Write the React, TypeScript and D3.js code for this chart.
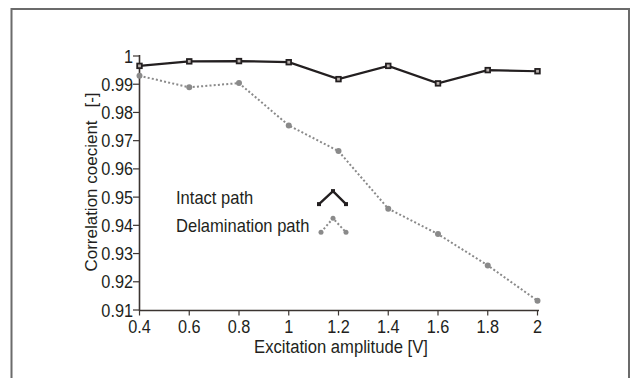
import React from "react";
import * as d3 from "d3";

// Excitation amplitudes (V)
const amplitudes = [0.4, 0.6, 0.8, 1.0, 1.2, 1.4, 1.6, 1.8, 2.0];
// Correlation coefficient, intact path
const intactValues = [0.9965, 0.9981, 0.9982, 0.9978, 0.9918, 0.9965, 0.9903, 0.995, 0.9946];
// Correlation coefficient, delamination path
const delamValues = [0.993, 0.9889, 0.9904, 0.9754, 0.9663, 0.9459, 0.9369, 0.9258, 0.9133];

const xTicks = [0.4, 0.6, 0.8, 1, 1.2, 1.4, 1.6, 1.8, 2];
const yTicks = [0.91, 0.92, 0.93, 0.94, 0.95, 0.96, 0.97, 0.98, 0.99, 1];

const W = 635;
const H = 378;
const FONT = "'Liberation Sans', Arial, sans-serif";
const INK = "#231f20";
const GREY = "#8a8a8a";
const AXIS = "#3b3431";

export default function App() {
  const x = d3.scaleLinear().domain([0.4, 2]).range([139.5, 537.5]);
  const y = d3.scaleLinear().domain([0.91, 1]).range([310, 56]);

  const line = d3
    .line<[number, number]>()
    .x((d) => x(d[0]))
    .y((d) => y(d[1]));

  const intact: [number, number][] = amplitudes.map((a, i) => [a, intactValues[i]]);
  const delam: [number, number][] = amplitudes.map((a, i) => [a, delamValues[i]]);

  const fmt = (v: number) => String(+v.toFixed(2));

  // legend rows sit on the 0.95 and 0.94 gridlines
  const rowI = y(0.95);
  const rowD = y(0.94);
  const legI: [number, number][] = [
    [319, rowI + 7],
    [333, rowI - 6],
    [346, rowI + 7],
  ];
  const legD: [number, number][] = [
    [321, rowD + 7],
    [333, rowD - 7],
    [346, rowD + 7],
  ];
  const plain = d3
    .line<[number, number]>()
    .x((d) => d[0])
    .y((d) => d[1]);

  // slightly condensed numeric labels
  const tickText = (tx: number, ty: number, anchor: "end" | "middle", s: string, key: string) => (
    <text
      key={key}
      transform={`translate(${tx},${ty}) scale(0.88,1)`}
      textAnchor={anchor}
      fontSize={18.5}
      fill={INK}
    >
      {s}
    </text>
  );

  return (
    <div style={{ position: "fixed", left: 0, top: 0, width: W, height: H, background: "#fff" }}>
      <svg width={W} height={H} style={{ display: "block" }} fontFamily={FONT}>
        {/* outer frame */}
        <rect x={11.5} y={9} width={617.5} height={400} fill="none" stroke="#6b6b6b" strokeWidth={2} />

        {/* axes */}
        <line x1={139.5} x2={539} y1={310.5} y2={310.5} stroke={AXIS} strokeWidth={1.6} />
        <line x1={139.5} x2={139.5} y1={55} y2={311} stroke={AXIS} strokeWidth={1.6} />

        {yTicks.map((t) => (
          <g key={"y" + t}>
            <line x1={133} x2={139.5} y1={y(t)} y2={y(t)} stroke={AXIS} strokeWidth={1.2} />
            {tickText(133, y(t) + 6.5, "end", fmt(t), "yl" + t)}
          </g>
        ))}

        {xTicks.map((t) => (
          <g key={"x" + t}>
            <line x1={x(t)} x2={x(t)} y1={310.5} y2={315.5} stroke={AXIS} strokeWidth={1.2} />
            {tickText(x(t), 333, "middle", fmt(t), "xl" + t)}
          </g>
        ))}

        {/* axis titles */}
        <g transform="translate(341,353) scale(0.9,1)">
          <text textAnchor="middle" fontSize={18.5} fill={INK}>
            Excitation amplitude [V]
          </text>
        </g>
        <text transform="translate(97,196) rotate(-90)" textAnchor="middle" fontSize={17} fill={INK}>
          Correlation coecient
        </text>
        <text transform="translate(97,100) rotate(-90)" textAnchor="middle" fontSize={17} fill={INK}>
          [-]
        </text>

        {/* delamination path series */}
        <path d={line(delam) ?? ""} fill="none" stroke={GREY} strokeWidth={2} strokeDasharray="2 2.2" />
        {delam.map((d, i) => (
          <circle key={"d" + i} cx={x(d[0])} cy={y(d[1])} r={3} fill={GREY} />
        ))}

        {/* intact path series */}
        <path d={line(intact) ?? ""} fill="none" stroke={INK} strokeWidth={2.2} />
        {intact.map((d, i) => (
          <rect
            key={"i" + i}
            x={x(d[0]) - 2.3}
            y={y(d[1]) - 2.3}
            width={4.6}
            height={4.6}
            fill="#b9b1ad"
            stroke={INK}
            strokeWidth={1.8}
          />
        ))}

        {/* legend */}
        <g transform={`translate(176,${rowI + 6.5}) scale(0.92,1)`}>
          <text fontSize={18} fill={INK}>
            Intact path
          </text>
        </g>
        <g transform={`translate(176,${rowD + 6.5}) scale(0.92,1)`}>
          <text fontSize={18} fill={INK}>
            Delamination path
          </text>
        </g>
        <path d={plain(legI) ?? ""} fill="none" stroke={INK} strokeWidth={2.4} />
        {legI.map((p, i) => (
          <rect key={"li" + i} x={p[0] - 2} y={p[1] - 2} width={4} height={4} fill={INK} />
        ))}
        <path d={plain(legD) ?? ""} fill="none" stroke={GREY} strokeWidth={2} strokeDasharray="2 2.2" />
        {legD.map((p, i) => (
          <circle key={"ld" + i} cx={p[0]} cy={p[1]} r={2.5} fill={GREY} />
        ))}
      </svg>
    </div>
  );
}
